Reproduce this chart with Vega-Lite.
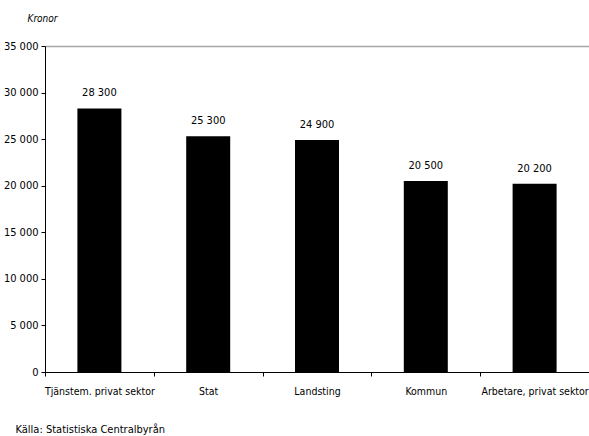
{
  "$schema": "https://vega.github.io/schema/vega-lite/v6.json",
  "width": 544,
  "height": 326,
  "autosize": {"type": "none"},
  "padding": {"left": 45, "top": 46, "right": 0, "bottom": 64},
  "background": "white",
  "config": {
    "locale": {
      "number": {"decimal": ",", "thousands": " ", "grouping": [3], "currency": ["", " kr"]}
    },
    "font": "'DejaVu Sans Condensed', 'Liberation Sans', sans-serif",
    "view": {"stroke": null},
    "axis": {
      "labelFont": "'DejaVu Sans Condensed', 'Liberation Sans', sans-serif",
      "titleFont": "'DejaVu Sans Condensed', 'Liberation Sans', sans-serif",
      "labelColor": "#000000",
      "titleColor": "#000000",
      "domainColor": "#000000",
      "tickColor": "#000000",
      "labelFontSize": 11,
      "titleFontSize": 11,
      "titleFontWeight": "normal"
    }
  },
  "data": {
    "values": [
      {"grupp": "Tjänstem. privat sektor", "lon": 28300},
      {"grupp": "Stat", "lon": 25300},
      {"grupp": "Landsting", "lon": 24900},
      {"grupp": "Kommun", "lon": 20500},
      {"grupp": "Arbetare, privat sektor", "lon": 20200}
    ]
  },
  "encoding": {
    "x": {
      "field": "grupp",
      "type": "nominal",
      "sort": null,
      "scale": {"paddingInner": 0, "paddingOuter": 0},
      "axis": {
        "title": "Källa: Statistiska Centralbyrån",
        "titleX": -30,
        "titleY": 57,
        "titleAlign": "left",
        "titleAnchor": "start",
        "titleBaseline": "middle",
        "labelAngle": 0,
        "labelFontSize": 10.5,
        "labelPadding": 10,
        "tickSize": 4,
        "tickBand": "extent",
        "domainWidth": 1,
        "labelLimit": 200
      }
    },
    "y": {
      "field": "lon",
      "type": "quantitative",
      "scale": {"domain": [0, 35000], "nice": false},
      "axis": {
        "title": "Kronor",
        "titleAngle": 0,
        "titleX": -18,
        "titleY": -28,
        "titleAlign": "left",
        "titleBaseline": "middle",
        "titleFontStyle": "italic",
        "titleFontSize": 10,
        "values": [0, 5000, 10000, 15000, 20000, 25000, 30000, 35000],
        "format": ",d",
        "tickSize": 4,
        "labelPadding": 3,
        "grid": true,
        "gridColor": "#a6a6a6",
        "gridWidth": 1.5,
        "gridOpacity": {"condition": {"test": "datum.value === 35000", "value": 1}, "value": 0}
      }
    }
  },
  "layer": [
    {"mark": {"type": "bar", "color": "#000000", "width": 44}},
    {
      "mark": {"type": "text", "dy": -15, "fontSize": 11, "color": "#000000"},
      "encoding": {"text": {"field": "lon", "type": "quantitative", "format": ",d"}}
    }
  ]
}
